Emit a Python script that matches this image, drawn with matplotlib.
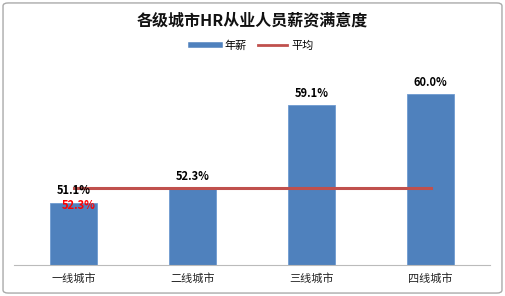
import matplotlib
matplotlib.use('Agg')
import matplotlib.pyplot as plt
from matplotlib.patches import FancyBboxPatch
from matplotlib.lines import Line2D

plt.rcParams['font.family'] = ['Noto Sans CJK SC', 'DejaVu Sans']

# data
cities = ['一线城市', '二线城市', '三线城市', '四线城市']
salary = [51.1, 52.3, 59.1, 60.0]
average = [52.3, 52.3, 52.3, 52.3]

bar_color = '#4F81BD'
line_color = '#C0504D'

fig = plt.figure(figsize=(5.05, 2.96), dpi=100)
ax = fig.add_axes([14 / 505, 1 - 265 / 296, 476 / 505, 195 / 296])

x = list(range(len(cities)))
ax.bar(x, salary, width=0.4, color=bar_color, edgecolor='#6F9AD0', linewidth=0.6, zorder=2)
ax.plot(x, average, color=line_color, linewidth=2.2, zorder=3)

for xi, v in zip(x, salary):
    ax.annotate(f'{v:.1f}%', (xi, v), xytext=(0, 4), textcoords='offset points',
                ha='center', va='bottom', fontsize=8, fontweight='bold', color='black')
# label for the average line, shown just under it at the first point
ax.annotate(f'{average[0]:.1f}%', (x[0], average[0]), xytext=(4, -8), textcoords='offset points',
            ha='center', va='top', fontsize=8, fontweight='bold', color='#FF0000', zorder=4)

ax.set_xlim(-0.5, 3.5)
ax.set_ylim(46, 62)
ax.set_yticks([])
ax.set_xticks(x)
ax.set_xticklabels(cities, fontsize=8, color='#222222')
ax.tick_params(axis='x', length=0, pad=6)
for s in ['top', 'right', 'left']:
    ax.spines[s].set_visible(False)
ax.spines['bottom'].set_color('#BBBBBB')

fig.text(0.5, 1 - 20 / 296, '各级城市HR从业人员薪资满意度', ha='center', va='center',
         fontsize=11.5, fontweight='bold', color='#111111')

handles = [Line2D([0], [0], color=bar_color, linewidth=4),
           Line2D([0], [0], color=line_color, linewidth=2)]
fig.legend(handles, ['年薪', '平均'], loc='center', bbox_to_anchor=(0.5, 1 - 46 / 296),
           ncol=2, frameon=False, fontsize=8, handlelength=2.6, columnspacing=1.0,
           handletextpad=0.4)

border = FancyBboxPatch((0.006, 0.01), 0.988, 0.98, boxstyle='round,pad=0,rounding_size=0.01',
                        transform=fig.transFigure, facecolor='none', edgecolor='#AAAAAA',
                        linewidth=1.0)
fig.patches.append(border)

fig.savefig('out.png', dpi=100)
